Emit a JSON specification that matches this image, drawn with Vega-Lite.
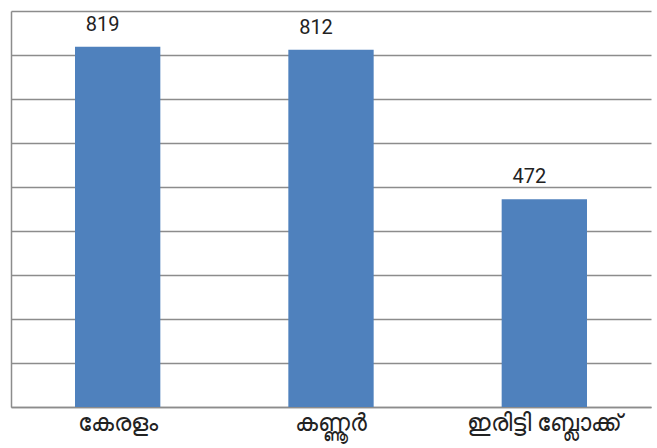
{
  "$schema": "https://vega.github.io/schema/vega-lite/v6.json",
  "width": 640,
  "height": 396,
  "autosize": {"type": "none"},
  "padding": {"left": 11, "top": 11, "right": 6, "bottom": 41},
  "background": "white",
  "config": {"view": {"stroke": null}},
  "data": {"values": [
    {"place": "കേരളം", "value": 819},
    {"place": "കണ്ണൂർ", "value": 812},
    {"place": "ഇരിട്ടി ബ്ലോക്ക്", "value": 472}
  ]},
  "encoding": {
    "x": {"field": "place", "type": "nominal", "sort": null,
      "scale": {"paddingInner": 0.6, "paddingOuter": 0.3},
      "axis": {"title": null, "labelAngle": 0, "labelFontSize": 24, "labelFontWeight": "normal", "labelColor": "#222222", "labelPadding": 4, "ticks": false, "domain": true, "domainColor": "#8c8c8c", "domainWidth": 1.5, "labelFont": "Noto Sans"}},
    "y": {"field": "value", "type": "quantitative",
      "scale": {"domain": [0, 900], "nice": false},
      "axis": {"title": null, "labels": false, "ticks": false, "values": [0,100,200,300,400,500,600,700,800,900], "grid": true, "gridColor": "#8c8c8c", "gridWidth": 1.5, "domain": true, "domainColor": "#8c8c8c", "domainWidth": 1.5}}
  },
  "layer": [
    {"mark": {"type": "bar", "color": "#4F81BD"}},
    {"mark": {"type": "text", "dy": -22, "dx": -15, "fontSize": 20, "color": "#222222", "font": "Roboto"},
     "encoding": {"text": {"field": "value", "type": "quantitative"}}}
  ]
}
